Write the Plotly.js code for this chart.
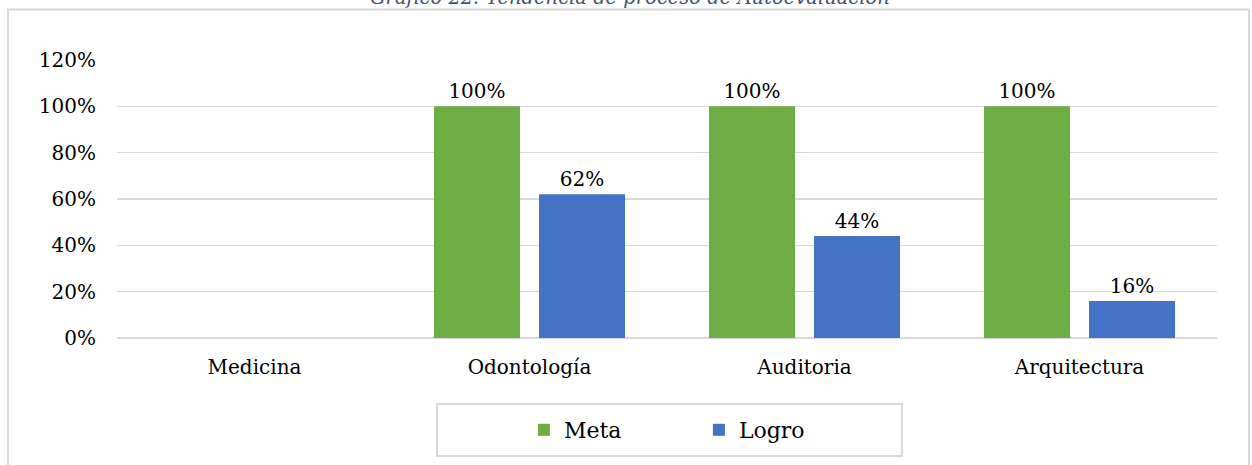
<!DOCTYPE html>
<html>
<head>
<meta charset="utf-8">
<script src="https://cdn.plot.ly/plotly-3.0.1.min.js"></script>
<style>
html,body{margin:0;padding:0;background:#fff;}
#chart{width:1252px;height:465px;}
</style>
</head>
<body>
<div id="chart"></div>
<script>
const categories = ["Medicina", "Odontología", "Auditoria", "Arquitectura"];
const metaValues = [null, 1.00, 1.00, 1.00];
const logroValues = [null, 0.62, 0.44, 0.16];
const seriesNames = ["Meta", "Logro"];
const yTickVals = [0, 0.2, 0.4, 0.6, 0.8, 1.0, 1.2];
const yTickText = ["0%", "20%", "40%", "60%", "80%", "100%", "120%"];
const titleText = "Gráfico 22: Tendencia de proceso de Autoevaluación";

const FONT = "DejaVu Serif";
const labelFont = {family: FONT, size: 20, color: "#000"};

const traces = [
  {
    type: "bar", name: seriesNames[0], x: categories, y: metaValues,
    marker: {color: "#6dad43"},
    texttemplate: "%{y:.0%}", textposition: "outside", cliponaxis: false,
    textfont: labelFont, hoverinfo: "skip"
  },
  {
    type: "bar", name: seriesNames[1], x: categories, y: logroValues,
    marker: {color: "#4472c4"},
    texttemplate: "%{y:.0%}", textposition: "outside", cliponaxis: false,
    textfont: labelFont, hoverinfo: "skip"
  }
];

const layout = {
  width: 1252, height: 465,
  margin: {l: 117, r: 35, t: 60, b: 127},
  paper_bgcolor: "#fff", plot_bgcolor: "#fff",
  barmode: "group", bargap: 0.236, bargroupgap: 0.181,
  showlegend: true,
  legend: {
    orientation: "h", x: 0.529, xanchor: "center", y: -0.331, yanchor: "middle",
    font: {family: FONT, size: 22, color: "#000"},
    entrywidth: 130, entrywidthmode: "pixels",
    bgcolor: "rgba(0,0,0,0)", borderwidth: 0
  },
  xaxis: {
    type: "category", showgrid: false, zeroline: false, showline: false,
    ticks: "", tickfont: labelFont, ticklabelstandoff: 15, fixedrange: true
  },
  yaxis: {
    range: [0, 1.2], tickvals: yTickVals, ticktext: yTickText,
    showgrid: true, gridcolor: "#d9d9d9", gridwidth: 1.5,
    zeroline: true, zerolinecolor: "#d9d9d9", zerolinewidth: 1.5,
    showline: false, ticks: "", tickfont: labelFont, ticklabelstandoff: 20,
    fixedrange: true
  },
  shapes: [
    {type: "rect", xref: "paper", yref: "paper",
     x0: 0.2909, x1: 0.7136, y0: -0.4245, y1: -0.2374,
     line: {color: "#d9d9d9", width: 2}, fillcolor: "rgba(0,0,0,0)", layer: "below"},
    {type: "rect", xref: "paper", yref: "paper",
     x0: -0.0991, x1: 1.0291, y0: -0.5, y1: 1.1817,
     line: {color: "#d9d9d9", width: 2}, fillcolor: "rgba(0,0,0,0)", layer: "below"}
  ],
  annotations: [
    {text: "<i>" + titleText + "</i>", xref: "paper", yref: "paper",
     x: 0.4664, xanchor: "center", y: 1.176, yanchor: "bottom", showarrow: false,
     font: {family: FONT, size: 19.5, color: "#44546a"}}
  ]
};

Plotly.newPlot("chart", traces, layout, {displayModeBar: false, staticPlot: true});
</script>
</body>
</html>
